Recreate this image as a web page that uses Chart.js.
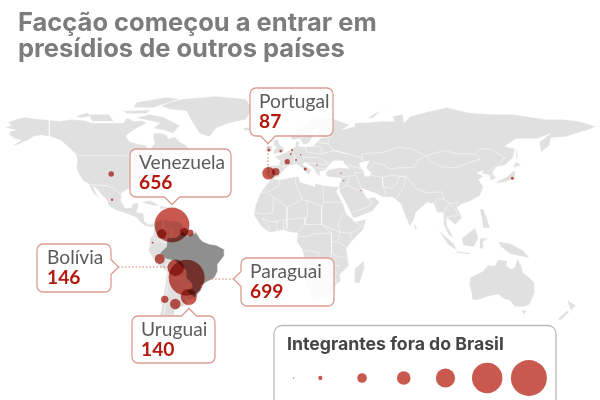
<!DOCTYPE html>
<html lang="pt">
<head>
<meta charset="utf-8">
<title>Facção começou a entrar em presídios de outros países</title>
<script src="https://cdn.jsdelivr.net/npm/chart.js@4"></script>
<style>
    html, body { margin: 0; padding: 0; background: #fff; }
    #wrap { position: relative; width: 600px; height: 400px; overflow: hidden; font-family: Lato, sans-serif; }
    canvas { position: absolute; left: 0; top: 0; }
    #title { position: absolute; left: 18px; top: 9px; font-family: Inter, sans-serif; font-size: 25.5px; line-height: 26px; font-weight: 700; color: #7c7c7c; white-space: nowrap; }
    #legendTitle { position: absolute; left: 287px; top: 333px; font-family: Inter, sans-serif; font-size: 17.7px; line-height: 22px; font-weight: 700; color: #454545; white-space: nowrap; }
    .tag { position: absolute; font-size: 19.2px; line-height: 20px; color: #5c5c5c; white-space: nowrap; }
    .tag b { display: block; color: #b5190d; font-weight: 700; }
</style>
</head>
<body>
<div id="wrap">
    <canvas id="mapChart" width="600" height="400"></canvas>
    <div id="title">Facção começou a entrar em<br>presídios de outros países</div>
    <div id="legendTitle">Integrantes fora do Brasil</div>
    <div class="tag" id="tagPortugal" style="left:259px;top:91px"></div>
    <div class="tag" id="tagVenezuela" style="left:139px;top:152px"></div>
    <div class="tag" id="tagBolivia" style="left:47px;top:247px"></div>
    <div class="tag" id="tagParaguai" style="left:250px;top:261px"></div>
    <div class="tag" id="tagUruguai" style="left:141px;top:319px"></div>
</div>
<script>
// bubbles
const bubbleNames = ["Venezuela", "Colômbia", "Guiana", "Suriname", "Equador", "Peru", "Bolívia", "Paraguai", "Uruguai", "Chile", "Argentina", "Portugal", "Espanha", "Irlanda", "Holanda", "Alemanha", "Bélgica", "França", "Suíça", "Áustria", "Itália", "Bulgária", "Turquia", "Líbano", "Kuwait", "Japão", "EUA", "México"];
const bubbleLon = [-66.7, -72.9, -59.4, -55.8, -78.4, -74.1, -64.4, -57.8, -56.5, -71.1, -64.7, -8.1, -3.8, -7.9, -0.8, 6.1, 5.3, 3.2, 8.5, 11.3, 14.1, 21.2, 35.8, 37.4, 47.9, 139.6, -103.5, -103];
const bubbleLat = [8.7, 3.5, 4.7, 4.1, -1.6, -11, -16.1, -21.9, -33.1, -34.5, -37.2, 38.8, 39.7, 52.3, 51.7, 52.3, 50, 45.5, 46.5, 49.6, 41.3, 43.6, 38.8, 34.5, 28.7, 35.9, 38.4, 23.4];
const bubbleValues = [656, 48, 35, 26, 2, 54, 146, 699, 140, 30, 61, 87, 30, 5, 4, 2, 2, 15, 2, 1, 5, 1, 1, 1, 1, 5, 16, 3];

const legendValues = [1, 10, 50, 100, 200, 500, 700];
const legendSlots = [0, 0.64, 1.64, 2.64, 3.64, 4.64, 5.64];

const calloutNames = ["Portugal", "Venezuela", "Bolívia", "Paraguai", "Uruguai"];
const calloutValues = [87, 656, 146, 699, 140];

// land outlines as lon, lat
const northAmerica = [[-168,65.5],[-164,66.5],[-166,68.5],[-160,70.5],[-156,71.3],[-148,70.3],[-141,69.7],[-135,69],[-128,70],[-120,69.5],[-115,68],[-108,68],[-100,68],[-96,68],[-94,71],[-90,69],[-85,69.5],[-82,68],[-86,66],[-90,64],[-94,61],[-94,59],[-92,57],[-86,55.5],[-82,55],[-82,52.5],[-79.5,51.5],[-79,54],[-77,56],[-78,59],[-78,62],[-73,62],[-70,61],[-69,59],[-65,60],[-62,57],[-58,55],[-56,52],[-60,50],[-66,50],[-69,48.5],[-65,49],[-64.5,47],[-61,46],[-66,44],[-67,45],[-70,43.5],[-70,41.7],[-74,40.5],[-76,37],[-76,35],[-81,31.5],[-80,27],[-80.5,25],[-82,27],[-83,29.5],[-85,29.7],[-89,30],[-94,29.5],[-97,27.5],[-97.5,22.5],[-95,18.5],[-91,18.7],[-90.5,21],[-87,21.5],[-88,16],[-84,15.5],[-83.5,11],[-81,9],[-78,9.3],[-77,8],[-80,7.5],[-83,8.3],[-86,10.5],[-88,13],[-92,14.5],[-96,16],[-101,17.5],[-105,20],[-106,23],[-109,26],[-112,29.5],[-114.7,31.5],[-112,26],[-110,23],[-112,25],[-115,28],[-117,32.5],[-120.5,34.5],[-123,38],[-124.5,42],[-124,47],[-125,50],[-130,54.5],[-134,58],[-140,60],[-146,61],[-151,60],[-154,58],[-160,55.5],[-164,54.5],[-158,58],[-162,59],[-165,61],[-165,63],[-161,64]];
const greenland = [[-73,78],[-68,80],[-60,82],[-40,83.5],[-22,82],[-18,76],[-22,70],[-32,68],[-40,65],[-44,60],[-50,62],[-54,68],[-58,75],[-68,76]];
const southAmerica = [[-78,9],[-75,11],[-72,12],[-68,11],[-62,10.5],[-60,8.5],[-57,6],[-52,5],[-50,1],[-48,-1],[-44,-2.5],[-40,-3],[-35,-5.5],[-35,-9],[-39,-14],[-39,-18],[-41,-22],[-45,-24],[-48.5,-26],[-49,-29],[-53,-33.5],[-56,-35],[-58,-34.5],[-57,-38],[-62,-39],[-65,-41],[-65,-45],[-68,-50],[-68.5,-53],[-65,-55],[-70,-55],[-74,-52],[-75,-47],[-73,-40],[-72,-33],[-70.5,-25],[-70,-18],[-76,-14],[-81,-6],[-80,-3],[-80,1],[-78,3],[-77.5,7]];
const brazil = [[-52,4],[-50,1],[-48,-1],[-44,-2.5],[-40,-3],[-35,-5.5],[-35,-9],[-39,-14],[-39,-18],[-41,-22],[-45,-24],[-48.5,-26],[-49,-29],[-53,-33.5],[-57.5,-30],[-54,-27],[-54.5,-25.5],[-58,-22],[-58,-18],[-60,-16],[-65,-12],[-70,-11],[-74,-7.5],[-70,-4],[-69.5,1],[-64,1.5],[-60,5],[-57,2]];
const eurasia = [[-9,37],[-9.5,39],[-9,43],[-2,43.5],[-1,46],[-4.5,48.5],[-1,49.5],[2,51],[4,52],[8,54],[8.5,57],[10.5,57.5],[10,54.5],[14,54],[19,54.5],[21,57],[24,59.5],[30,60],[23,60],[21,63],[25,65.5],[22,65.8],[17.5,62],[18.5,60],[16,56.2],[13,55.5],[11,59],[6,58],[5,62],[12,66],[18,70],[26,71],[32,70],[41,67],[36,64],[44,66],[44,68],[54,68.5],[60,69],[68,69],[67,72],[73,73],[74,68],[78,72],[86,74],[100,77],[113,74],[128,73],[140,73],[160,70],[170,70],[180,69],[190,66],[187,64.5],[180,62.5],[172,60],[163,59.5],[162,55],[157,51],[156,57],[163,62],[155,59],[142,59],[135,54.5],[141,53],[140,48],[135,43.5],[130,42.5],[127.5,39.5],[129.5,36],[126.5,34.5],[126,37.5],[121,39],[122,40.5],[118,39],[122,37],[119,35],[122,31],[120,26],[114,22.5],[109,21],[106,19],[109,13],[105,9],[100,13],[100,8],[104,1.5],[101,3],[98,9],[97.5,16],[94,16],[92,21],[88,22],[81,16],[80,12],[77.5,8],[73,18],[72,21],[67,25],[61,25],[57,27],[51,29],[48,30],[51,25],[52,24],[56,25],[59,22],[55,17],[45,13],[43,13],[39,21],[35,28],[34.5,31],[36,36],[30,36.5],[27,37],[26.5,39.5],[29,41],[35,42],[41,41.5],[38,44],[37,46],[31,46],[28,43],[26,40.5],[23,40],[23,36.5],[20,40],[19,42],[14,45],[12.5,44],[18,40.5],[16,38],[12,42],[9,44],[3.5,43],[0,39.5],[-2,36.8],[-5.5,36]];
const africa = [[-6,35.8],[-1,35],[10,37],[11,33.5],[15,32.5],[20,31],[20,32.8],[25,31.7],[32,31],[34.5,31],[33,28],[37,21],[39,15],[43,12],[44,10.5],[51,12],[49,6],[42,-1],[39,-5],[40.5,-15],[35,-20],[35.5,-24],[32.5,-26],[32,-29],[27,-34],[20,-35],[18,-33],[15,-27],[12,-17],[13.5,-10],[12,-5],[9,-1],[9.5,4],[5,4.5],[1,6],[-4,5],[-8,4.5],[-13,8.5],[-17,14.5],[-16,20],[-13,27.5],[-9.5,32]];
const australia = [[114,-22],[113.5,-26],[115,-31],[115,-34.5],[118,-35],[124,-33],[131,-31.5],[135,-34.5],[138,-35],[141,-38.5],[146,-39],[150,-37.5],[153,-31],[153,-25],[149,-21],[146,-19],[145,-15],[142.5,-11],[141,-16],[139,-17],[136,-15],[136.5,-12],[131,-11.5],[129,-15],[125,-14.5],[122,-18],[117,-20.5]];
const islands = [
    [[-80,73],[-72,71.5],[-62,66.5],[-66,62],[-72,64],[-78,65],[-74,68],[-88,71]],
    [[-117,73],[-105,73],[-102,69],[-115,69]],
    [[-90,77],[-88,80],[-70,83],[-62,82],[-78,77]],
    [[-125,72],[-118,74],[-116,72],[-122,71]],
    [[-96,75],[-80,75.5],[-82,73.5],[-94,73.5]],
    [[-59,47.7],[-56,51.5],[-53,47]],
    [[-85,22],[-80,23],[-74,20],[-78,20]],
    [[-74,19.7],[-69,19],[-68.5,18.5],[-74,18]],
    [[-24,65],[-14,66],[-14,64.5],[-22,63.5]],
    [[-5,50],[1,51],[1.5,53],[-2,56],[-2,58],[-5,58.5],[-5,55],[-3,54],[-5,52]],
    [[-10,52],[-6,52],[-6,55],[-9,54.5]],
    [[142,54],[143,49],[142,46],[142,50]],
    [[130,33],[136,34],[141,36],[141.5,40],[140,40],[136,36.5],[131,34.5]],
    [[140,42],[145,43.5],[142,45.5]],
    [[120,18],[122,18],[124,13],[126,7],[122,7],[121,13]],
    [[95,5.5],[104,-2],[106,-6],[101,-3]],
    [[109,1],[113,4],[117,7],[119,1],[116,-4],[110,-3]],
    [[105.5,-6.5],[114,-7.5],[114,-8.5],[106,-7.5]],
    [[120,1],[125,1],[122,-1],[122,-5],[120,-5]],
    [[131,-1],[138,-2],[146,-6],[150,-10.5],[143,-9],[138,-8],[133,-4]],
    [[80,9.5],[82,7],[80.5,6]],
    [[49.5,-12],[50,-16],[47,-25],[44,-25],[44,-17]],
    [[145,-41],[148,-41],[147,-43.5]],
    [[173,-35],[178,-38],[175,-41],[174,-38]],
    [[173,-41],[174,-42],[169,-46.5],[167,-46]],
    [[52,71],[57,74],[68,77],[60,75],[55,71]],
    [[12,78],[25,80],[20,77]]
];
const caspian = [[47,45],[53,46],[51,42],[54,39],[53,37],[50,37],[49.5,40],[47,43]];

// country borders, thin white lines
const borders = [
    [[-123,49],[-95,49],[-90,48],[-83,46],[-82,42],[-79,43],[-75,45],[-70,46],[-67,47],[-67,45]],
    [[-141,69.7],[-141,60]],
    [[-117,32.5],[-108,31.5],[-106,31.7],[-101,29.5],[-97,26]],
    [[-2,35],[-1,32],[-8.5,28],[-13,27.5]],
    [[-8.5,27],[-5,25],[3,19],[12,23.5],[9.5,30],[8,33],[8.5,37]],
    [[-5,25],[-6,15.5],[-12,15],[-16.5,16]],
    [[12,23.5],[15,23],[24,19.5],[25,22],[25,31.7]],
    [[25,22],[37,22]],
    [[15,23],[15.5,13],[14,13],[14,9],[9,4]],
    [[3,12],[3,6.5]],
    [[3,12],[14,13]],
    [[-12,12.5],[-6,10.5],[3,12]],
    [[3,19],[3,12]],
    [[24,19.5],[24,9],[35,4.5],[42,4],[48,8],[43,11.5]],
    [[37,15],[34,9],[35,4.5]],
    [[42,4],[41,-1.5]],
    [[14,9],[24,9],[30,4],[18,3.5],[16,2],[10,2]],
    [[30,4],[30,-8],[28,-12],[22,-11],[22,-7],[13,-6]],
    [[34,-1],[39.5,-4.5]],
    [[30,-1],[34,-1],[35,4.5]],
    [[30,-8],[34,-9.5],[40.5,-10.5]],
    [[12,-17],[24,-17.5],[25,-18],[30,-15],[35,-15]],
    [[22,-11],[22,-17.5]],
    [[21,-18],[20,-28],[16.5,-28.5]],
    [[20,-25],[26,-25],[32,-22],[33,-26]],
    [[25,-18],[29,-22]],
    [[32,-22],[33,-19],[30,-15]],
    [[-8,4.5],[-8,8],[-12,12.5]],
    [[-3,5],[-3,11]],
    [[1,6],[1,11]],
    [[28,56],[31,52],[40,50],[47,48],[49,46.5],[48,50],[61,51],[71,54],[78,53],[87,49],[98,52],[107,50],[117,50],[120,53],[126,53],[135,48],[131,43]],
    [[87,49],[91,45],[97,42.5],[105,42],[112,44.5],[120,47],[117,50]],
    [[53,42],[56,45],[61,44],[66,41],[70,42],[80,42],[83,47],[87,49]],
    [[48,30],[46,35],[44,39.5],[48,39]],
    [[54,37.5],[61,36.5],[61,31],[63,27],[61,25]],
    [[61,31],[66,30],[70,33],[71,37],[75,37],[66,37.5],[61,36.5]],
    [[75,37],[79,33],[81,30],[88,27.5],[97,28],[98,24],[94,24],[92,21]],
    [[75,37],[74,31],[70,25],[68,23.7]],
    [[98,24],[101,21.5],[107,21.5]],
    [[101,21],[98,16],[99,10]],
    [[101,21.5],[105,18],[107,14],[103,14],[100,13]],
    [[124.5,40],[130,42.5]],
    [[126,38],[128.5,38]],
    [[35,29.5],[39,32],[46,29],[48,28.5]],
    [[52,24],[55,22],[52,19],[45,17],[43,16.5]],
    [[36,36.7],[44,37.5]],
    [[39,32],[41,36.5]],
    [[40,43.5],[48,41.5]],
    [[-9,42],[-7,42],[-7,37]],
    [[-2,43.3],[3,42.5]],
    [[2.5,51],[8,49],[7,44]],
    [[14,54],[15,51],[24,50],[24,54],[19,54.5]],
    [[12,48],[17,48],[22,48],[28,45],[29,45]],
    [[24,50],[32,52],[40,50]],
    [[21,57],[28,56],[28,60]],
    [[12,59],[12,63],[20,69],[26,70]],
    [[20,69],[24,66],[30,70]],
    [[30,70],[30,62],[28,60]],
    [[14,45],[22,44],[28,44]],
    [[20,42],[26,41.5]],
    [[-72,12],[-72,7],[-67,6],[-67,1.5]],
    [[-60,8.5],[-60,5]],
    [[-57,6],[-57,2]],
    [[-78,1.5],[-70,-2]],
    [[-80,-3.5],[-75,0]],
    [[-69,-11],[-70,-18]],
    [[-70,-18],[-69,-24],[-70,-33],[-72,-46],[-72,-52],[-68.5,-53]],
    [[-69,-22.5],[-63,-22],[-58,-22]],
    [[-63,-22],[-58,-27],[-54.5,-26]],
    [[-58,-34],[-58,-30]]
];

// dotted lines from the callouts to the bubbles
const leaders = [
    [[-8.5,56.4],[-8.5,39.5]],
    [[-99.4,-15.7],[-69,-15.7]],
    [[-29,-22.7],[-46.7,-22.7]]
];

calloutNames.forEach((name, i) => {
    const id = "tag" + name.replace("í", "i");
    document.getElementById(id).innerHTML = name + "<b>" + calloutValues[i] + "</b>";
});

const bubbleRadius = v => 0.68 * Math.sqrt(v);
const toPoints = line => line.map(p => ({ x: p[0], y: p[1] }));

function landSet(points, color, order) {
    return {
        type: "scatter",
        data: toPoints(points),
        showLine: true,
        fill: "shape",
        backgroundColor: color,
        borderColor: "#ffffff",
        borderWidth: 0.3,
        pointRadius: 0,
        tension: 0,
        order: order
    };
}

const datasets = [];
[northAmerica, greenland, southAmerica, eurasia, africa, australia, ...islands].forEach(shape => {
    datasets.push(landSet(shape, "#e0e0e0", 6));
});
datasets.push(landSet(caspian, "#ffffff", 5));
borders.forEach(line => {
    datasets.push({
        type: "scatter", data: toPoints(line), showLine: true, fill: false,
        borderColor: "rgba(255,255,255,0.85)", borderWidth: 0.6, pointRadius: 0, order: 4
    });
});
datasets.push(landSet(brazil, "#8f8f8f", 3));
leaders.forEach(line => {
    datasets.push({
        type: "scatter", data: toPoints(line), showLine: true, fill: false,
        borderColor: "#d4776c", borderWidth: 1, borderDash: [1.5, 2], pointRadius: 0, order: 2
    });
});
datasets.push({
    type: "bubble",
    label: "Integrantes",
    data: bubbleValues.map((v, i) => ({ x: bubbleLon[i], y: bubbleLat[i], r: bubbleRadius(v) })),
    backgroundColor: "#c9594f",
    borderWidth: 0,
    multiply: true,
    order: 1
});
datasets.push({
    type: "bubble",
    label: "Legenda",
    xAxisID: "xLegend",
    yAxisID: "yLegend",
    data: legendValues.map((v, i) => ({ x: legendSlots[i], y: 0, r: bubbleRadius(v) })),
    backgroundColor: "#c9594f",
    borderWidth: 0,
    order: 0
});

function roundedBox(ctx, x, y, w, h, r, side, at) {
    // outline with an optional little pointer on one side
    const p = 7.5;
    ctx.beginPath();
    ctx.moveTo(x + r, y);
    if (side === "top") { ctx.lineTo(at - p, y); ctx.lineTo(at, y - p); ctx.lineTo(at + p, y); }
    ctx.lineTo(x + w - r, y);
    ctx.arcTo(x + w, y, x + w, y + r, r);
    if (side === "right") { ctx.lineTo(x + w, at - p); ctx.lineTo(x + w + p, at); ctx.lineTo(x + w, at + p); }
    ctx.lineTo(x + w, y + h - r);
    ctx.arcTo(x + w, y + h, x + w - r, y + h, r);
    if (side === "bottom") { ctx.lineTo(at + p, y + h); ctx.lineTo(at, y + h + p); ctx.lineTo(at - p, y + h); }
    ctx.lineTo(x + r, y + h);
    ctx.arcTo(x, y + h, x, y + h - r, r);
    if (side === "left") { ctx.lineTo(x, at + p); ctx.lineTo(x - p, at); ctx.lineTo(x, at - p); }
    ctx.lineTo(x, y + r);
    ctx.arcTo(x, y, x + r, y, r);
    ctx.closePath();
}

const boxesPlugin = {
    id: "boxes",
    // bubbles multiply over the grey map, as in the original
    beforeDatasetDraw(chart, args) {
        if (chart.data.datasets[args.index].multiply) {
            chart.ctx.save();
            chart.ctx.globalCompositeOperation = "multiply";
        }
    },
    afterDatasetDraw(chart, args) {
        if (chart.data.datasets[args.index].multiply) chart.ctx.restore();
    },
    afterDatasetsDraw(chart) {
        const ctx = chart.ctx;
        ctx.save();
        ctx.lineWidth = 1.3;
        ctx.strokeStyle = "#dc9c94";
        ctx.fillStyle = "rgba(255,255,255,0.86)";
        [
            [250, 88, 83, 48, "bottom", 268],
            [130, 149, 101, 48, "bottom", 172],
            [37, 244, 74, 48, "right", 267],
            [241, 258, 93, 48, "left", 279],
            [132, 316, 83, 47, "top", 189]
        ].forEach(b => {
            roundedBox(ctx, b[0], b[1], b[2], b[3], 6, b[4], b[5]);
            ctx.fill();
            ctx.stroke();
        });
        ctx.strokeStyle = "#b9b9b9";
        ctx.lineWidth = 1.3;
        roundedBox(ctx, 274, 325.5, 282, 90, 8);
        ctx.stroke();
        ctx.restore();
    }
};

new Chart(document.getElementById("mapChart"), {
    type: "bubble",
    data: { datasets: datasets },
    plugins: [boxesPlugin],
    options: {
        responsive: false,
        animation: false,
        clip: false,
        layout: { padding: 0, autoPadding: false },
        plugins: { legend: { display: false }, tooltip: { enabled: false } },
        scales: {
            x: { type: "linear", display: false, min: -170.9, max: 192.7 },
            y: { type: "linear", display: false, min: -93, max: 139.5 },
            xLegend: { type: "linear", display: false, min: -7.04, max: 7.345 },
            yLegend: { type: "linear", display: false, min: -22, max: 378 }
        }
    }
});
</script>
</body>
</html>
